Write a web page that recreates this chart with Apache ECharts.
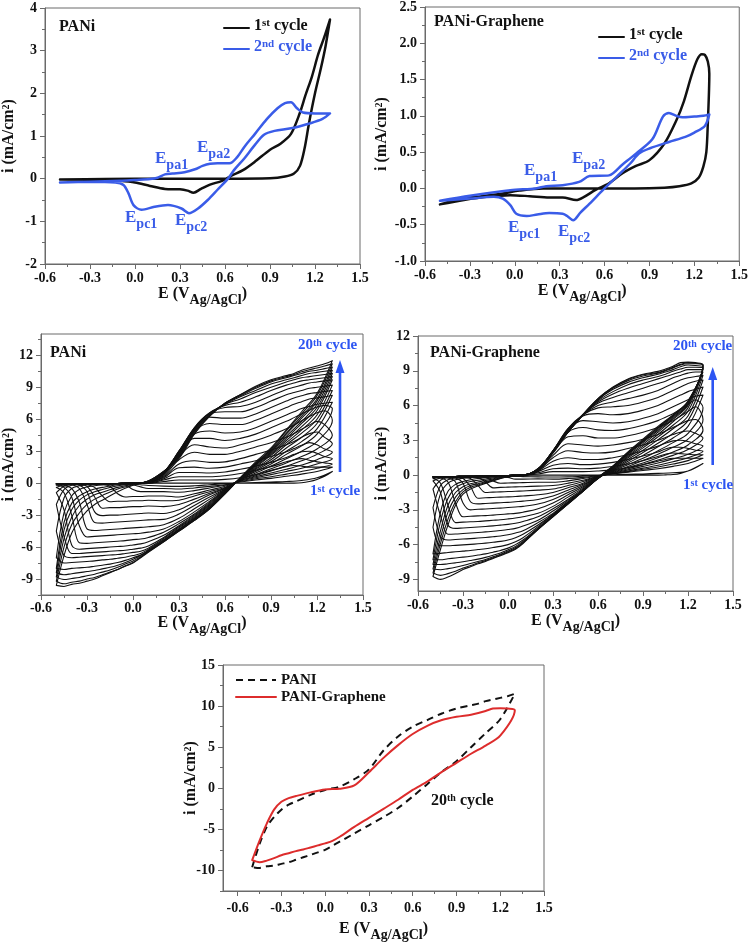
<!DOCTYPE html>
<html><head><meta charset="utf-8">
<script src="https://cdn.jsdelivr.net/npm/echarts@6/dist/echarts.min.js"></script>
<style>html,body{margin:0;padding:0;background:#fff}#c{width:751px;height:943px}</style>
</head><body><div id="c"></div>
<script>
// ---------------- DATA ----------------
// Panel a: PANi, 1st & 2nd cycle
const A1_E = [-0.5,-0.2,0.2,0.6,0.9,1.0,1.06,1.1,1.13,1.16,1.2,1.24,1.27,1.3,1.26,1.22,1.18,1.136,1.1,1.04,0.97,0.9,0.8,0.72,0.65,0.58,0.5,0.44,0.39,0.35,0.3,0.2,0.1,0.0,-0.1,-0.2,-0.5];
const A1_I = [-0.02,-0.01,0.0,0.0,0.01,0.05,0.12,0.3,0.7,1.3,2.0,2.6,3.1,3.73,3.3,2.9,2.4,1.95,1.55,1.05,0.82,0.68,0.4,0.2,0.08,-0.05,-0.14,-0.24,-0.33,-0.28,-0.25,-0.24,-0.17,-0.09,-0.05,-0.03,-0.02];
const A2_E = [-0.5,-0.3,-0.1,0.0,0.1,0.15,0.2,0.25,0.33,0.4,0.45,0.5,0.55,0.63,0.68,0.73,0.8,0.88,0.95,1.0,1.04,1.08,1.12,1.2,1.3,1.25,1.17,1.04,0.93,0.86,0.79,0.73,0.66,0.62,0.55,0.485,0.42,0.36,0.31,0.22,0.13,0.044,-0.01,-0.044,-0.077,-0.13,-0.3,-0.5];
const A2_I = [-0.09,-0.07,-0.05,-0.03,-0.01,0.02,0.1,0.12,0.15,0.22,0.3,0.35,0.36,0.36,0.5,0.75,1.05,1.4,1.65,1.77,1.79,1.65,1.55,1.53,1.53,1.4,1.3,1.18,1.12,1.03,0.75,0.48,0.2,0.0,-0.26,-0.5,-0.7,-0.81,-0.7,-0.62,-0.66,-0.73,-0.62,-0.34,-0.15,-0.09,-0.07,-0.09];
// Panel b: PANi-Graphene, 1st & 2nd cycle
const B1_E = [-0.5,-0.45,-0.39,-0.23,-0.08,0.03,0.19,0.5,0.8,1.0,1.1,1.18,1.23,1.26,1.28,1.29,1.3,1.29,1.27,1.25,1.22,1.18,1.13,1.08,1.0,0.9,0.81,0.72,0.63,0.54,0.46,0.41,0.32,0.23,0.1,-0.03,-0.19,-0.34,-0.5];
const B1_I = [-0.22,-0.19,-0.15,-0.11,-0.07,-0.03,0.0,0.0,0.0,0.01,0.03,0.07,0.15,0.3,0.5,0.9,1.58,1.75,1.84,1.85,1.78,1.55,1.2,0.94,0.62,0.39,0.31,0.21,0.07,-0.02,-0.12,-0.16,-0.125,-0.125,-0.107,-0.093,-0.116,-0.16,-0.22];
const B2_E = [-0.5,-0.3,-0.03,0.14,0.21,0.32,0.43,0.5,0.63,0.72,0.81,0.92,0.99,1.03,1.08,1.12,1.2,1.26,1.3,1.27,1.2,1.14,1.03,0.9,0.83,0.77,0.68,0.59,0.5,0.44,0.39,0.35,0.32,0.23,0.15,0.08,0.01,-0.03,-0.08,-0.14,-0.3,-0.5];
const B2_I = [-0.17,-0.1,-0.025,0.0,0.03,0.045,0.09,0.17,0.18,0.33,0.48,0.68,0.99,1.04,1.0,0.98,0.99,1.0,1.02,0.86,0.77,0.71,0.64,0.55,0.48,0.34,0.16,-0.02,-0.21,-0.33,-0.44,-0.38,-0.35,-0.34,-0.36,-0.38,-0.35,-0.23,-0.14,-0.115,-0.14,-0.17];

// Panels c,d: 20 cycles. Shared potentials of the forward and reverse scans
const SCAN_FWD_E = [-0.5,-0.45,-0.4,-0.35,-0.3,-0.25,-0.2,-0.1,0.0,0.1,0.2,0.3,0.4,0.5,0.6,0.7,0.8,0.9,1.0,1.05,1.1,1.15,1.2,1.25,1.3];
const SCAN_REV_E = [1.3,1.2,1.1,1.0,0.9,0.8,0.7,0.6,0.5,0.4,0.3,0.2,0.1,0.05,0.0,-0.05,-0.1,-0.15,-0.2,-0.25,-0.3,-0.35,-0.4,-0.45,-0.5];

// PANi currents (mA/cm2), cycles 1..20
const PANI_FWD = [
[-0.05,-0.05,-0.05,-0.05,-0.05,-0.05,-0.05,-0.03,0,0,0,0,0,0,0,0,0,0,0,0,0.03,0.15,0.35,0.65,1.1],
[-0.05,-0.05,-0.05,-0.05,-0.05,-0.05,-0.05,-0.03,0,0,0.15,0.3,0.3,0.3,0.35,0.5,0.8,1.2,1.55,1.65,1.6,1.5,1.5,1.5,1.5],
[-0.05,-0.05,-0.05,-0.05,-0.05,-0.05,-0.05,-0.03,0,0,0.3,0.6,0.6,0.6,0.7,0.9,1.2,1.55,2.0,2.2,2.3,2.15,2.0,1.9,1.8],
[-0.05,-0.05,-0.05,-0.05,-0.05,-0.05,-0.05,-0.03,0,0,0.4,1.0,1.0,0.95,1.05,1.3,1.6,1.95,2.4,2.7,2.95,3.0,2.8,2.5,2.3],
[-0.05,-0.05,-0.05,-0.05,-0.05,-0.05,-0.05,-0.03,0,0.05,0.5,1.45,1.5,1.4,1.5,1.8,2.1,2.5,2.95,3.25,3.55,3.8,3.6,3.2,2.9],
[-0.05,-0.05,-0.05,-0.05,-0.05,-0.05,-0.05,-0.03,0,0.05,0.6,1.8,2.1,1.95,2.0,2.3,2.7,3.1,3.6,3.9,4.3,4.65,4.8,4.3,3.7],
[-0.05,-0.05,-0.05,-0.05,-0.05,-0.05,-0.05,-0.03,0,0.05,0.7,2.2,2.9,2.7,2.7,3.0,3.4,3.8,4.3,4.65,5.05,5.45,5.8,5.5,4.5],
[-0.05,-0.05,-0.05,-0.05,-0.05,-0.05,-0.05,-0.03,0,0.1,0.8,2.5,3.6,3.4,3.3,3.6,4.0,4.5,5.1,5.45,5.85,6.25,6.6,6.8,5.9],
[-0.1,-0.07,-0.05,-0.05,-0.05,-0.05,-0.05,-0.03,0,0.1,0.85,2.7,4.2,4.2,4.0,4.2,4.6,5.2,5.8,6.15,6.5,6.85,7.15,7.3,7.0],
[-0.2,-0.1,-0.06,-0.05,-0.05,-0.05,-0.04,-0.03,0,0.1,0.9,2.9,4.6,4.9,4.7,4.8,5.2,5.8,6.4,6.7,7.0,7.2,7.4,7.5,7.6],
[-0.4,-0.15,-0.08,-0.06,-0.05,-0.05,-0.04,-0.03,0,0.1,0.95,3.0,4.9,5.6,5.5,5.5,5.9,6.5,7.1,7.4,7.65,7.9,8.0,8.1,8.25],
[-0.9,-0.3,-0.12,-0.08,-0.06,-0.05,-0.05,-0.03,0,0.1,1.0,3.0,5.1,6.2,6.1,6.1,6.5,7.1,7.7,8.0,8.2,8.4,8.5,8.6,8.7],
[-2.0,-0.6,-0.2,-0.12,-0.08,-0.06,-0.05,-0.03,0,0.1,1.0,3.0,5.2,6.5,6.7,6.7,7.1,7.7,8.3,8.5,8.7,8.9,9.0,9.1,9.2],
[-4.5,-1.4,-0.5,-0.25,-0.15,-0.1,-0.08,-0.04,0,0.1,1.0,2.9,5.2,6.6,7.1,7.2,7.6,8.2,8.8,9.0,9.2,9.4,9.5,9.6,9.7],
[-7.0,-2.8,-1.2,-0.6,-0.35,-0.25,-0.18,-0.08,-0.02,0.1,1.0,2.8,5.1,6.6,7.3,7.6,8.1,8.7,9.2,9.4,9.6,9.7,9.8,9.9,10.0],
[-8.0,-3.7,-1.9,-1.2,-0.8,-0.55,-0.4,-0.15,-0.03,0.15,1.05,2.7,5.0,6.5,7.4,7.9,8.5,9.0,9.5,9.7,9.9,10.0,10.1,10.2,10.3],
[-8.4,-4.4,-2.5,-1.6,-1.1,-0.8,-0.6,-0.25,-0.06,0.15,1.05,2.6,4.9,6.4,7.4,8.1,8.7,9.3,9.7,9.9,10.1,10.3,10.4,10.5,10.6],
[-8.8,-5.2,-3.2,-2.1,-1.5,-1.1,-0.85,-0.4,-0.1,0.2,1.1,2.5,4.8,6.4,7.5,8.2,8.9,9.5,9.9,10.1,10.3,10.5,10.6,10.75,10.9],
[-9.2,-6.0,-3.9,-2.8,-2.0,-1.5,-1.15,-0.55,-0.15,0.2,1.1,2.4,4.7,6.3,7.5,8.3,9.0,9.6,10.0,10.2,10.45,10.65,10.8,11.0,11.2],
[-9.6,-6.8,-4.7,-3.5,-2.6,-2.0,-1.6,-0.8,-0.2,0.2,1.1,2.3,4.6,6.3,7.5,8.3,9.1,9.7,10.1,10.3,10.6,10.8,11.0,11.2,11.5]
];
const PANI_REV = [
[1.1,0.5,0.25,0.15,0.1,0.05,0.0,-0.05,-0.15,-0.25,-0.3,-0.28,-0.22,-0.15,-0.1,-0.07,-0.05,-0.05,-0.05,-0.05,-0.05,-0.05,-0.05,-0.05,-0.05],
[1.5,1.1,0.85,0.65,0.45,0.3,0.1,-0.15,-0.3,-0.45,-0.55,-0.5,-0.5,-0.35,-0.15,-0.07,-0.05,-0.05,-0.05,-0.05,-0.05,-0.05,-0.05,-0.05,-0.05],
[1.8,1.4,1.1,0.85,0.6,0.4,0.15,-0.2,-0.45,-0.7,-0.85,-0.8,-0.8,-0.8,-0.6,-0.15,-0.07,-0.05,-0.05,-0.05,-0.05,-0.05,-0.05,-0.05,-0.05],
[2.3,1.8,1.4,1.1,0.8,0.5,0.2,-0.3,-0.65,-1.0,-1.3,-1.2,-1.2,-1.25,-1.25,-1.3,-1.0,-0.3,-0.1,-0.05,-0.05,-0.05,-0.05,-0.05,-0.05],
[2.9,2.2,1.7,1.3,0.95,0.6,0.25,-0.4,-0.8,-1.2,-1.6,-1.65,-1.6,-1.65,-1.65,-1.7,-1.7,-1.75,-1.2,-0.4,-0.15,-0.1,-0.05,-0.05,-0.05],
[3.7,2.7,2.1,1.6,1.15,0.7,0.25,-0.45,-0.95,-1.5,-2.0,-2.2,-2.15,-2.2,-2.2,-2.25,-2.3,-2.3,-2.35,-1.3,-0.3,-0.1,-0.05,-0.05,-0.05],
[4.5,3.2,2.5,1.9,1.35,0.8,0.3,-0.5,-1.1,-1.8,-2.5,-2.85,-2.8,-2.85,-2.9,-2.95,-3.0,-3.0,-3.05,-2.7,-0.8,-0.2,-0.1,-0.05,-0.05],
[5.9,3.9,3.0,2.3,1.6,0.95,0.3,-0.55,-1.3,-2.1,-2.9,-3.4,-3.45,-3.5,-3.55,-3.6,-3.65,-3.7,-3.75,-3.7,-2.0,-0.5,-0.15,-0.1,-0.05],
[7.0,4.6,3.5,2.7,1.8,1.1,0.35,-0.6,-1.5,-2.4,-3.3,-3.9,-4.1,-4.15,-4.2,-4.25,-4.3,-4.35,-4.4,-4.45,-4.3,-1.8,-0.5,-0.2,-0.1],
[7.6,5.1,3.9,3.0,2.0,1.2,0.35,-0.65,-1.7,-2.7,-3.6,-4.3,-4.6,-4.7,-4.75,-4.8,-4.85,-4.9,-4.95,-5.0,-5.05,-4.0,-1.3,-0.4,-0.2],
[8.25,5.6,4.3,3.3,2.2,1.3,0.4,-0.7,-1.8,-2.9,-3.8,-4.6,-5.1,-5.25,-5.3,-5.4,-5.45,-5.5,-5.55,-5.6,-5.65,-5.6,-3.0,-0.9,-0.4],
[8.7,6.0,4.7,3.6,2.4,1.4,0.4,-0.75,-1.9,-3.0,-4.0,-4.9,-5.5,-5.7,-5.8,-5.9,-5.95,-6.0,-6.05,-6.1,-6.15,-6.2,-5.8,-2.5,-0.9],
[9.2,6.4,5.0,3.8,2.6,1.5,0.4,-0.8,-2.0,-3.1,-4.1,-5.1,-5.9,-6.1,-6.2,-6.3,-6.35,-6.4,-6.45,-6.5,-6.55,-6.6,-6.6,-5.0,-2.0],
[9.7,6.8,5.3,4.0,2.7,1.6,0.45,-0.85,-2.1,-3.2,-4.2,-5.2,-6.1,-6.4,-6.5,-6.6,-6.7,-6.75,-6.8,-6.85,-6.9,-6.95,-7.0,-6.8,-4.5],
[10.0,7.1,5.6,4.2,2.8,1.7,0.45,-0.9,-2.2,-3.3,-4.3,-5.3,-6.2,-6.6,-6.8,-6.95,-7.05,-7.15,-7.2,-7.3,-7.35,-7.4,-7.45,-7.5,-7.0],
[10.3,7.4,5.8,4.4,2.9,1.75,0.45,-0.9,-2.25,-3.35,-4.35,-5.35,-6.3,-6.75,-7.0,-7.25,-7.45,-7.6,-7.7,-7.8,-7.9,-7.95,-8.0,-8.1,-8.0],
[10.6,7.7,6.1,4.6,3.0,1.8,0.5,-0.95,-2.3,-3.4,-4.4,-5.4,-6.35,-6.8,-7.15,-7.45,-7.7,-7.9,-8.05,-8.2,-8.3,-8.4,-8.5,-8.6,-8.4],
[10.9,7.9,6.3,4.7,3.1,1.85,0.5,-0.95,-2.35,-3.45,-4.45,-5.45,-6.4,-6.9,-7.3,-7.6,-7.9,-8.15,-8.35,-8.55,-8.7,-8.85,-8.95,-9.05,-8.8],
[11.2,8.2,6.5,4.9,3.2,1.9,0.5,-1.0,-2.4,-3.5,-4.5,-5.5,-6.45,-6.95,-7.45,-7.75,-8.1,-8.35,-8.6,-8.85,-9.0,-9.2,-9.3,-9.45,-9.2],
[11.5,8.4,6.7,5.0,3.3,2.0,0.5,-1.0,-2.4,-3.5,-4.5,-5.5,-6.5,-7.0,-7.5,-7.8,-8.1,-8.4,-8.7,-9.0,-9.2,-9.4,-9.5,-9.7,-9.6]
];
// PANi-Graphene currents (mA/cm2), cycles 1..20
const PG_FWD = [
[-0.15,-0.14,-0.13,-0.12,-0.11,-0.1,-0.09,-0.06,-0.03,0,0,0,0,0,0,0,0,0,0,0.02,0.05,0.15,0.35,0.65,1.0],
[-0.15,-0.14,-0.13,-0.12,-0.11,-0.1,-0.09,-0.06,-0.03,0,0.1,0.3,0.3,0.3,0.35,0.45,0.65,0.9,1.2,1.35,1.45,1.45,1.45,1.45,1.45],
[-0.15,-0.14,-0.13,-0.12,-0.11,-0.1,-0.09,-0.06,-0.03,0,0.2,0.55,0.6,0.55,0.6,0.75,0.95,1.25,1.6,1.8,1.9,1.85,1.8,1.75,1.75],
[-0.15,-0.14,-0.13,-0.12,-0.11,-0.1,-0.09,-0.06,-0.03,0,0.3,0.85,1.0,0.9,0.95,1.1,1.35,1.65,2.0,2.25,2.4,2.4,2.3,2.15,2.05],
[-0.15,-0.14,-0.13,-0.12,-0.11,-0.1,-0.09,-0.06,-0.03,0,0.35,1.2,1.5,1.35,1.35,1.5,1.75,2.1,2.5,2.75,2.95,3.0,2.9,2.7,2.5],
[-0.15,-0.14,-0.13,-0.12,-0.11,-0.1,-0.09,-0.06,-0.03,0,0.4,1.5,2.1,1.95,1.9,2.0,2.3,2.6,3.0,3.25,3.5,3.7,3.8,3.6,3.2],
[-0.15,-0.14,-0.13,-0.12,-0.11,-0.1,-0.09,-0.06,-0.03,0,0.45,1.7,2.7,2.6,2.5,2.6,2.8,3.1,3.5,3.8,4.1,4.4,4.7,4.8,3.9],
[-0.15,-0.14,-0.13,-0.12,-0.11,-0.1,-0.09,-0.06,-0.03,0,0.5,1.9,3.3,3.4,3.2,3.2,3.4,3.7,4.1,4.4,4.7,5.1,5.5,5.9,4.8],
[-0.2,-0.15,-0.13,-0.12,-0.11,-0.1,-0.09,-0.06,-0.03,0,0.5,2.0,3.7,4.1,3.9,3.85,4.0,4.3,4.7,5.0,5.3,5.7,6.1,6.5,5.8],
[-0.3,-0.18,-0.14,-0.12,-0.11,-0.1,-0.09,-0.06,-0.03,0,0.55,2.0,3.9,4.7,4.6,4.5,4.6,4.9,5.3,5.6,5.9,6.2,6.5,6.8,6.9],
[-0.5,-0.25,-0.16,-0.13,-0.12,-0.1,-0.09,-0.06,-0.03,0,0.55,2.1,4.0,5.1,5.3,5.2,5.3,5.6,6.0,6.3,6.6,6.9,7.2,7.4,7.6],
[-1.2,-0.45,-0.22,-0.16,-0.13,-0.11,-0.1,-0.06,-0.03,0,0.55,2.1,4.0,5.2,5.8,5.9,6.0,6.3,6.7,7.0,7.3,7.6,7.9,8.1,8.2],
[-2.8,-0.9,-0.4,-0.25,-0.18,-0.14,-0.12,-0.07,-0.03,0,0.5,2.1,3.9,5.2,6.0,6.3,6.6,6.9,7.3,7.6,7.9,8.2,8.4,8.5,8.6],
[-4.5,-1.6,-0.7,-0.4,-0.27,-0.2,-0.16,-0.09,-0.03,0,0.5,2.1,3.8,5.2,6.2,6.7,7.1,7.5,7.9,8.1,8.4,8.6,8.8,8.9,8.9],
[-6.8,-3.2,-1.4,-0.8,-0.55,-0.4,-0.3,-0.15,-0.05,0,0.45,2.05,3.8,5.2,6.3,7.0,7.5,7.9,8.3,8.5,8.7,8.9,9.1,9.1,9.1],
[-7.3,-4.0,-2.0,-1.1,-0.75,-0.55,-0.45,-0.25,-0.08,0,0.45,2.05,3.75,5.2,6.4,7.2,7.8,8.2,8.5,8.7,8.95,9.15,9.3,9.3,9.25],
[-7.7,-4.8,-2.6,-1.5,-1.0,-0.75,-0.6,-0.33,-0.1,0,0.4,2.0,3.7,5.2,6.5,7.4,8.0,8.4,8.7,8.9,9.1,9.35,9.5,9.45,9.35],
[-8.1,-5.4,-3.2,-1.9,-1.25,-0.9,-0.75,-0.4,-0.12,0,0.4,2.0,3.7,5.2,6.5,7.5,8.15,8.55,8.8,9.0,9.25,9.5,9.6,9.6,9.45],
[-8.45,-5.9,-3.8,-2.3,-1.45,-1.05,-0.85,-0.45,-0.14,-0.05,0.35,1.95,3.7,5.2,6.6,7.55,8.25,8.65,8.85,9.05,9.3,9.55,9.7,9.65,9.5],
[-8.75,-6.4,-4.3,-2.6,-1.65,-1.2,-0.95,-0.5,-0.15,-0.05,0.35,1.95,3.7,5.25,6.6,7.6,8.3,8.7,8.95,9.15,9.4,9.7,9.75,9.7,9.5]
];
const PG_REV = [
[1.0,0.35,0.2,0.15,0.1,0.07,0.03,-0.05,-0.1,-0.15,-0.17,-0.15,-0.13,-0.12,-0.12,-0.12,-0.12,-0.13,-0.13,-0.14,-0.14,-0.15,-0.15,-0.15,-0.15],
[1.45,1.0,0.75,0.55,0.4,0.25,0.1,-0.05,-0.2,-0.3,-0.35,-0.33,-0.35,-0.35,-0.2,-0.15,-0.15,-0.15,-0.15,-0.15,-0.15,-0.15,-0.15,-0.15,-0.15],
[1.75,1.25,0.95,0.7,0.5,0.3,0.12,-0.08,-0.3,-0.5,-0.62,-0.62,-0.65,-0.67,-0.68,-0.7,-0.5,-0.2,-0.15,-0.15,-0.15,-0.15,-0.15,-0.15,-0.15],
[2.05,1.5,1.15,0.85,0.6,0.35,0.15,-0.1,-0.45,-0.7,-0.9,-0.95,-1.0,-1.02,-1.04,-1.06,-1.1,-0.6,-0.22,-0.17,-0.15,-0.15,-0.15,-0.15,-0.15],
[2.5,1.8,1.4,1.05,0.75,0.45,0.18,-0.12,-0.55,-0.9,-1.2,-1.3,-1.37,-1.4,-1.42,-1.45,-1.47,-1.5,-0.9,-0.3,-0.18,-0.15,-0.15,-0.15,-0.15],
[3.2,2.2,1.7,1.3,0.9,0.55,0.2,-0.14,-0.7,-1.1,-1.5,-1.7,-1.8,-1.85,-1.88,-1.9,-1.93,-1.96,-2.0,-1.0,-0.3,-0.18,-0.15,-0.15,-0.15],
[3.9,2.6,2.0,1.5,1.05,0.65,0.25,-0.16,-0.8,-1.3,-1.8,-2.1,-2.25,-2.3,-2.35,-2.38,-2.42,-2.45,-2.48,-2.3,-0.7,-0.25,-0.18,-0.15,-0.15],
[4.8,3.1,2.4,1.8,1.25,0.75,0.3,-0.18,-0.9,-1.5,-2.1,-2.5,-2.7,-2.75,-2.8,-2.85,-2.88,-2.92,-2.95,-3.0,-2.4,-0.6,-0.25,-0.18,-0.15],
[5.8,3.6,2.8,2.1,1.45,0.9,0.35,-0.2,-1.0,-1.7,-2.4,-2.9,-3.2,-3.3,-3.35,-3.4,-3.45,-3.5,-3.52,-3.55,-3.6,-2.4,-0.6,-0.25,-0.2],
[6.9,4.2,3.2,2.45,1.7,1.05,0.4,-0.22,-1.1,-1.9,-2.7,-3.3,-3.6,-3.7,-3.78,-3.85,-3.9,-3.95,-4.0,-4.03,-4.06,-4.1,-2.6,-0.7,-0.3],
[7.6,4.7,3.6,2.75,1.95,1.2,0.45,-0.24,-1.2,-2.1,-2.9,-3.6,-4.0,-4.15,-4.25,-4.32,-4.38,-4.43,-4.48,-4.52,-4.56,-4.6,-4.3,-1.5,-0.5],
[8.2,5.1,4.0,3.05,2.15,1.35,0.5,-0.26,-1.3,-2.2,-3.1,-3.9,-4.4,-4.6,-4.7,-4.78,-4.85,-4.9,-4.95,-5.0,-5.04,-5.08,-5.1,-3.5,-1.2],
[8.6,5.5,4.3,3.3,2.35,1.5,0.55,-0.28,-1.35,-2.3,-3.3,-4.1,-4.8,-5.0,-5.15,-5.25,-5.32,-5.38,-5.43,-5.48,-5.52,-5.56,-5.6,-5.3,-2.8],
[8.9,5.8,4.6,3.5,2.5,1.6,0.6,-0.3,-1.4,-2.4,-3.4,-4.3,-5.1,-5.4,-5.6,-5.72,-5.8,-5.87,-5.93,-5.98,-6.02,-6.06,-6.1,-6.1,-4.5],
[9.1,6.0,4.8,3.7,2.65,1.7,0.65,-0.3,-1.3,-2.35,-3.4,-4.45,-5.4,-5.75,-6.0,-6.15,-6.25,-6.35,-6.42,-6.5,-6.56,-6.62,-6.68,-6.75,-6.8],
[9.25,6.1,4.9,3.85,2.8,1.8,0.7,-0.28,-1.33,-2.4,-3.48,-4.55,-5.6,-6.0,-6.3,-6.5,-6.65,-6.8,-6.9,-7.0,-7.08,-7.15,-7.22,-7.3,-7.3],
[9.35,6.2,5.0,3.95,2.9,1.85,0.72,-0.25,-1.35,-2.45,-3.53,-4.62,-5.72,-6.15,-6.45,-6.72,-6.92,-7.1,-7.25,-7.37,-7.48,-7.57,-7.65,-7.72,-7.7],
[9.45,6.3,5.1,4.05,2.95,1.9,0.75,-0.23,-1.37,-2.47,-3.56,-4.66,-5.8,-6.25,-6.55,-6.82,-7.05,-7.28,-7.46,-7.63,-7.8,-7.95,-8.07,-8.17,-8.1],
[9.5,6.35,5.15,4.1,3.0,1.95,0.78,-0.21,-1.39,-2.49,-3.58,-4.68,-5.85,-6.33,-6.63,-6.9,-7.14,-7.38,-7.57,-7.8,-8.02,-8.3,-8.5,-8.65,-8.45],
[9.5,6.4,5.2,4.2,3.1,2.0,0.8,-0.2,-1.4,-2.5,-3.6,-4.7,-5.9,-6.4,-6.7,-6.95,-7.2,-7.45,-7.65,-7.9,-8.15,-8.5,-8.8,-9.0,-8.75]
];

// Tick values
const X_TICKS = [-0.6,-0.3,0,0.3,0.6,0.9,1.2,1.5];
const X_MINOR = [-0.45,-0.15,0.15,0.45,0.75,1.05,1.35];
const YA_TICKS = [-2,-1,0,1,2,3,4];           const YA_MINOR = [-1.5,-0.5,0.5,1.5,2.5,3.5];
const YB_TICKS = [-1,-0.5,0,0.5,1,1.5,2,2.5]; const YB_MINOR = [-0.75,-0.25,0.25,0.75,1.25,1.75,2.25];
const YC_TICKS = [-9,-6,-3,0,3,6,9,12];       const YC_MINOR = [-10.5,-7.5,-4.5,-1.5,1.5,4.5,7.5,10.5,13.5];
const YD_TICKS = [-9,-6,-3,0,3,6,9,12];       const YD_MINOR = [-7.5,-4.5,-1.5,1.5,4.5,7.5,10.5];
const YE_TICKS = [-10,-5,0,5,10,15];          const YE_MINOR = [-12.5,-7.5,-2.5,2.5,7.5,12.5];

// ---------------- STYLE / LAYOUT ----------------
const FONT = "'Liberation Serif','Times New Roman',serif";
const BLUE = '#3a5ce8';
const ARROW = '#2d55f2';
const AXC = '#6a6a6a';
const GRIDS = [
  {left:43, top:8, width:317, height:256},
  {left:425, top:7, width:315, height:254},
  {left:39, top:334, width:324, height:261},
  {left:418, top:336, width:315, height:255},
  {left:223, top:665, width:321, height:229}
];
const AX = [
  {x:[-0.6,1.5], y:[-2,4], yt:YA_TICKS, ym:YA_MINOR, yf:v=>String(v), yGap:24, xGap:22, xm:7},
  {x:[-0.6,1.5], y:[-1,2.5], yt:YB_TICKS, ym:YB_MINOR, yf:v=>v.toFixed(1), yGap:31, xGap:22, xm:7},
  {x:[-0.6,1.5], y:[-10.5,14], yt:YC_TICKS, ym:YC_MINOR, yf:v=>String(v), yGap:20, xGap:20, xm:6},
  {x:[-0.6,1.5], y:[-10,12], yt:YD_TICKS, ym:YD_MINOR, yf:v=>String(v), yGap:24, xGap:22, xm:7},
  {x:[-0.7,1.5], y:[-12.5,15], yt:YE_TICKS, ym:YE_MINOR, yf:v=>String(v), yGap:20, xGap:30, xm:10}
];

const NAME_RICH = {
  m:{fontSize:16, fontWeight:'bold', fontFamily:FONT, color:'#111', lineHeight:20, verticalAlign:'top'},
  s:{fontSize:14, fontWeight:'bold', fontFamily:FONT, color:'#111', lineHeight:14, padding:[7,0,0,0], verticalAlign:'top'},
  p:{fontSize:10, fontWeight:'bold', fontFamily:FONT, color:'#111', lineHeight:10, padding:[0,0,10,0], verticalAlign:'top'}
};
const LABEL = {color:'#111', fontFamily:FONT, fontWeight:'bold', fontSize:14};

const xAxis = [], yAxis = [];
GRIDS.forEach((g, gi) => {
  const c = AX[gi];
  xAxis.push({type:'value', gridIndex:gi, min:c.x[0], max:c.x[1], position:'bottom',
    splitLine:{show:false},
    axisLine:{show:true, onZero:false, lineStyle:{color:AXC, width:1}},
    axisTick:{show:true, length:5, customValues:X_TICKS, lineStyle:{color:AXC, width:1}},
    axisLabel:Object.assign({customValues:X_TICKS, margin:c.xm, formatter:v=>v.toFixed(1)}, LABEL),
    name:'{m|E (V}{s|Ag/AgCl}{m|)}', nameLocation:'middle', nameGap:c.xGap, nameMoveOverlap:false,
    nameTextStyle:{rich:NAME_RICH, fontFamily:FONT, fontWeight:'bold', fontSize:16, color:'#111'}});
  xAxis.push({type:'value', gridIndex:gi, min:c.x[0], max:c.x[1], position:'bottom',
    splitLine:{show:false}, axisLine:{show:false, onZero:false}, axisLabel:{show:false},
    axisTick:{show:true, length:3, customValues:X_MINOR, lineStyle:{color:AXC, width:1}}});
  yAxis.push({type:'value', gridIndex:gi, min:c.y[0], max:c.y[1], position:'left',
    splitLine:{show:false},
    axisLine:{show:true, onZero:false, lineStyle:{color:AXC, width:1}},
    axisTick:{show:true, length:5, customValues:c.yt, lineStyle:{color:AXC, width:1}},
    axisLabel:Object.assign({customValues:c.yt, margin:8, formatter:c.yf}, LABEL),
    name:'{m|i (mA/cm}{p|2}{m|)}', nameLocation:'middle', nameGap:c.yGap, nameMoveOverlap:false,
    nameTextStyle:{rich:NAME_RICH, fontFamily:FONT, fontWeight:'bold', fontSize:16, color:'#111'}});
  yAxis.push({type:'value', gridIndex:gi, min:c.y[0], max:c.y[1], position:'left',
    splitLine:{show:false}, axisLine:{show:false, onZero:false}, axisLabel:{show:false},
    axisTick:{show:true, length:3, customValues:c.ym, lineStyle:{color:AXC, width:1}}});
});

function pairs(E, I) { return E.map((e, i) => [e, I[i]]); }
function loop(fE, fI, rE, rI) {
  const d = pairs(fE, fI);
  for (let j = 1; j < rE.length; j++) d.push([rE[j], rI[j]]);
  return d;
}
function line(name, gi, data, color, width, extra) {
  return Object.assign({name, type:'line', xAxisIndex:gi*2, yAxisIndex:gi*2, data,
    symbol:'none', smooth:0.3, silent:true,
    lineStyle:{color, width, cap:'round', join:'round'}, itemStyle:{color}}, extra || {});
}

const series = [
  line('p1a', 0, pairs(A1_E, A1_I), '#111', 2.5),
  line('p1b', 0, pairs(A2_E, A2_I), BLUE, 2.5),
  line('p2a', 1, pairs(B1_E, B1_I), '#111', 2.5),
  line('p2b', 1, pairs(B2_E, B2_I), BLUE, 2.5)
];
for (let n = 0; n < 20; n++) {
  series.push(line('pc' + n, 2, loop(SCAN_FWD_E, PANI_FWD[n], SCAN_REV_E, PANI_REV[n]), '#111', 1.1, {smooth:0.35}));
  series.push(line('pd' + n, 3, loop(SCAN_FWD_E, PG_FWD[n], SCAN_REV_E, PG_REV[n]), '#111', 1.1, {smooth:0.35}));
}
series.push(line('p5a', 4, loop(SCAN_FWD_E, PANI_FWD[19], SCAN_REV_E, PANI_REV[19]), '#111', 2,
  {lineStyle:{color:'#111', width:2, type:[7,5]}}));
series.push(line('p5b', 4, loop(SCAN_FWD_E, PG_FWD[19], SCAN_REV_E, PG_REV[19]), '#dd2c2c', 2));

const LEG_RICH = {
  k:{fontSize:16, fontWeight:'bold', fontFamily:FONT, color:'#111', lineHeight:20, verticalAlign:'top'},
  ks:{fontSize:11, fontWeight:'bold', fontFamily:FONT, color:'#111', lineHeight:11, padding:[0,0,9,0], verticalAlign:'top'},
  b:{fontSize:16, fontWeight:'bold', fontFamily:FONT, color:BLUE, lineHeight:20, verticalAlign:'top'},
  bs:{fontSize:11, fontWeight:'bold', fontFamily:FONT, color:BLUE, lineHeight:11, padding:[0,0,9,0], verticalAlign:'top'},
  q:{fontSize:15, fontWeight:'bold', fontFamily:FONT, color:'#111', lineHeight:20}
};
const LEG_TXT = {
  p1a:'{k|1}{ks|st}{k| cycle}', p1b:'{b|2}{bs|nd}{b| cycle}',
  p2a:'{k|1}{ks|st}{k| cycle}', p2b:'{b|2}{bs|nd}{b| cycle}',
  p5a:'{q|PANI}', p5b:'{q|PANI-Graphene}'
};
function legend(names, left, top, w) {
  return {data:names, left, top, orient:'vertical', itemWidth:w, itemHeight:20, itemGap:1,
    padding:0, selectedMode:false, formatter:n => LEG_TXT[n],
    itemStyle:{opacity:0},
    textStyle:{rich:LEG_RICH, fontFamily:FONT, fontWeight:'bold', fontSize:16}};
}

// ---------------- ANNOTATIONS ----------------
const R_E = {fontSize:17, fontWeight:'bold', fontFamily:FONT, fill:BLUE, lineHeight:20, verticalAlign:'top'};
const R_S = {fontSize:14, fontWeight:'bold', fontFamily:FONT, fill:BLUE, lineHeight:14, padding:[8,0,0,0], verticalAlign:'top'};
function epk(x, y, sub) {
  return {type:'text', x, y, silent:true, style:{text:'{e|E}{s|' + sub + '}', rich:{e:R_E, s:R_S}, align:'left', verticalAlign:'top'}};
}
function plain(x, y, txt, size) {
  return {type:'text', x, y, silent:true, style:{text:txt, fill:'#111', font:'bold ' + size + 'px ' + FONT, align:'left', verticalAlign:'middle'}};
}
function cyc(x, y, a, sup, color, size) {
  const m = {fontSize:size, fontWeight:'bold', fontFamily:FONT, fill:color, lineHeight:20, verticalAlign:'top'};
  const s = {fontSize:10, fontWeight:'bold', fontFamily:FONT, fill:color, lineHeight:10, padding:[0,0,10,0], verticalAlign:'top'};
  return {type:'text', x, y, silent:true, style:{text:'{m|' + a + '}{s|' + sup + '}{m| cycle}', rich:{m, s}, align:'left', verticalAlign:'top'}};
}
function arrow(x, yBot, yTip) {
  return [
    {type:'line', silent:true, shape:{x1:x, y1:yBot, x2:x, y2:yTip + 12}, style:{stroke:ARROW, lineWidth:2.6}},
    {type:'polygon', silent:true, shape:{points:[[x - 4.5, yTip + 13], [x + 4.5, yTip + 13], [x, yTip]]}, style:{fill:ARROW}}
  ];
}
const graphic = [
  plain(59, 27, 'PANi', 16),
  plain(434, 21.5, 'PANi-Graphene', 16),
  plain(50, 353, 'PANi', 16),
  plain(430, 353, 'PANi-Graphene', 16),
  epk(155, 150, 'pa1'), epk(197, 139, 'pa2'), epk(125, 209, 'pc1'), epk(175, 212, 'pc2'),
  epk(524, 162, 'pa1'), epk(572, 150, 'pa2'), epk(508, 219, 'pc1'), epk(558, 223, 'pc2'),
  cyc(298, 338, '20', 'th', ARROW, 15), cyc(310, 484, '1', 'st', ARROW, 15),
  cyc(673, 339, '20', 'th', ARROW, 15), cyc(683, 478, '1', 'st', ARROW, 15),
  cyc(431, 793, '20', 'th', '#111', 16)
].concat(arrow(340, 472, 360), arrow(712.7, 465, 367));

const chart = echarts.init(document.getElementById('c'), null, {renderer:'canvas'});
chart.setOption({
  animation:false,
  backgroundColor:'#fff',
  grid:GRIDS.map(g => Object.assign({show:true, borderColor:AXC, borderWidth:1, containLabel:false}, g)),
  xAxis, yAxis, series,
  legend:[legend(['p1a','p1b'], 223, 18, 25), legend(['p2a','p2b'], 598, 27, 25), legend(['p5a','p5b'], 235, 672, 40)],
  graphic
});
</script>
</body></html>
